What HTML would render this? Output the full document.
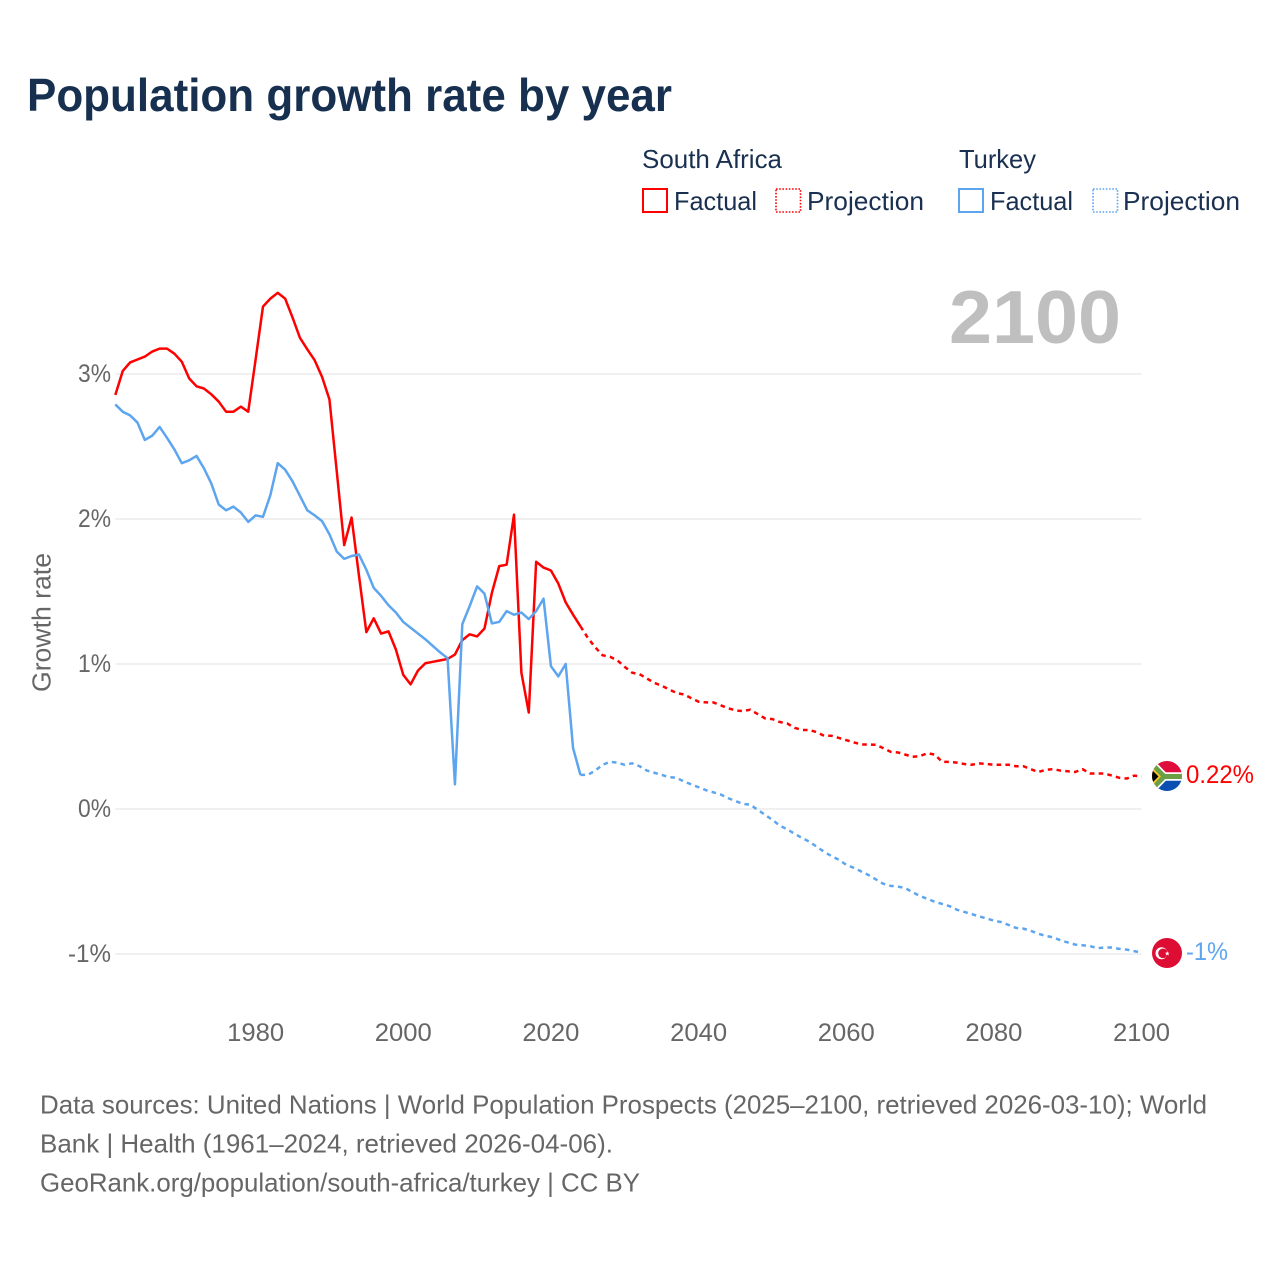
<!DOCTYPE html>
<html lang="en">
<head>
<meta charset="utf-8">
<title>Population growth rate by year</title>
<style>
html,body{margin:0;padding:0;background:#fff;}
svg{display:block;}
text{font-family:"Liberation Sans",sans-serif;}
</style>
</head>
<body>
<svg id="chart" xmlns="http://www.w3.org/2000/svg" width="1280" height="1280" viewBox="0 0 1280 1280">
  <rect x="0" y="0" width="1280" height="1280" fill="#fff"/>
  <text x="27" y="111" font-size="46" font-weight="700" fill="#17304f" textLength="645" lengthAdjust="spacingAndGlyphs">Population growth rate by year</text>

  <g font-size="26" fill="#1a3050">
    <text x="642" y="168" textLength="140" lengthAdjust="spacingAndGlyphs">South Africa</text>
    <text x="959" y="168" textLength="77" lengthAdjust="spacingAndGlyphs">Turkey</text>
    <rect x="643" y="189" width="24" height="23" fill="none" stroke="#ff0000" stroke-width="2"/>
    <text x="674" y="210" textLength="83" lengthAdjust="spacingAndGlyphs">Factual</text>
    <rect x="776" y="189" width="24.5" height="23" fill="none" stroke="#ff0000" stroke-width="1.6" stroke-dasharray="1.6 1.6"/>
    <text x="807" y="210" textLength="117" lengthAdjust="spacingAndGlyphs">Projection</text>
    <rect x="959" y="189" width="24" height="23" fill="none" stroke="#5da5ef" stroke-width="2"/>
    <text x="990" y="210" textLength="83" lengthAdjust="spacingAndGlyphs">Factual</text>
    <rect x="1093" y="189" width="24.5" height="23" fill="none" stroke="#5da5ef" stroke-width="1.6" stroke-dasharray="1.6 1.6"/>
    <text x="1123" y="210" textLength="117" lengthAdjust="spacingAndGlyphs">Projection</text>
  </g>

  <text x="949" y="343" font-size="75" font-weight="700" fill="#bfbfbf" textLength="172" lengthAdjust="spacingAndGlyphs">2100</text>

  <g id="grid"></g>
  <g id="yticks" font-size="25" fill="#666" text-anchor="end"></g>
  <g id="xticks" font-size="25" fill="#666" text-anchor="middle"></g>
  <text transform="translate(50.5,692) rotate(-90)" font-size="25.5" fill="#666" textLength="139" lengthAdjust="spacingAndGlyphs">Growth rate</text>

  <g id="series"></g>

  <defs>
    <clipPath id="clip-za"><circle cx="1167" cy="776" r="15"/></clipPath>
    <clipPath id="clip-tr"><circle cx="1167" cy="953" r="15"/></clipPath>
  </defs>
  <g clip-path="url(#clip-za)">
    <rect x="1152" y="761" width="30" height="15.5" fill="#de0d3b"/>
    <rect x="1152" y="776.5" width="30" height="15" fill="#0b4fb3"/>
    <path d="M1148 760 L1164 776.5 L1148 793 M1164 776.5 H1184" fill="none" stroke="#fff" stroke-width="8.5"/>
    <path d="M1148 760 L1164 776.5 L1148 793 M1164 776.5 H1184" fill="none" stroke="#6a9f45" stroke-width="5"/>
    <polygon points="1150,765 1161,776.5 1150,788" fill="#f5c32c"/>
    <polygon points="1150,768 1158.5,776.5 1150,785" fill="#000"/>
  </g>
  <g clip-path="url(#clip-tr)">
    <rect x="1152" y="938" width="30" height="30" fill="#de0d33"/>
    <circle cx="1161.5" cy="953.3" r="6" fill="#fff"/>
    <circle cx="1163" cy="953.3" r="4.8" fill="#de0d33"/>
    <polygon transform="translate(-4.2,0.4)" points="1171.5,950.6 1172.1,952.3 1173.9,952.3 1172.5,953.4 1173,955.2 1171.5,954.1 1170,955.2 1170.5,953.4 1169.1,952.3 1170.9,952.3" fill="#fff"/>
  </g>
  <text x="1186" y="783" font-size="25" fill="#ff0000" textLength="68" lengthAdjust="spacingAndGlyphs">0.22%</text>
  <text x="1186" y="960" font-size="25" fill="#5da5ef" textLength="42" lengthAdjust="spacingAndGlyphs">-1%</text>

  <g font-size="26" fill="#666">
    <text x="40" y="1113.5" textLength="1167" lengthAdjust="spacingAndGlyphs">Data sources: United Nations | World Population Prospects (2025–2100, retrieved 2026-03-10); World</text>
    <text x="40" y="1152.5" textLength="573" lengthAdjust="spacingAndGlyphs">Bank | Health (1961–2024, retrieved 2026-04-06).</text>
    <text x="40" y="1191.5" textLength="600" lengthAdjust="spacingAndGlyphs">GeoRank.org/population/south-africa/turkey | CC BY</text>
  </g>
</svg>
<script>
const factualStartYear = 1961;
const projectionStartYear = 2024;
const xTickYears = [1980, 2000, 2020, 2040, 2060, 2080, 2100];
const yTickValues = [3, 2, 1, 0, -1];
const yTickLabels = ['3%', '2%', '1%', '0%', '-1%'];

const southAfricaFactual = [
  2.855,3.02,3.08,3.10,3.12,3.155,3.175,3.175,3.14,3.085,
  2.97,2.915,2.90,2.86,2.81,2.74,2.74,2.775,2.74,3.10,
  3.465,3.52,3.56,3.52,3.39,3.25,3.17,3.095,2.98,2.825,
  2.325,1.82,2.01,1.61,1.22,1.315,1.21,1.225,1.10,0.925,
  0.86,0.955,1.005,1.015,1.025,1.035,1.065,1.165,1.205,1.19,
  1.245,1.49,1.675,1.685,2.03,0.94,0.665,1.705,1.665,1.645,
  1.555,1.425,1.34,1.26
];
const southAfricaProjection = [
  1.26,1.18,1.115,1.06,1.05,1.025,0.98,0.94,0.93,0.90,
  0.87,0.85,0.825,0.80,0.79,0.765,0.74,0.735,0.735,0.715,
  0.695,0.68,0.675,0.685,0.655,0.625,0.62,0.60,0.59,0.56,
  0.545,0.545,0.53,0.505,0.505,0.49,0.475,0.46,0.445,0.445,
  0.443,0.42,0.395,0.39,0.375,0.36,0.365,0.385,0.375,0.325,
  0.325,0.32,0.31,0.305,0.315,0.31,0.305,0.305,0.305,0.295,
  0.295,0.275,0.255,0.27,0.275,0.265,0.26,0.255,0.275,0.245,
  0.245,0.245,0.23,0.215,0.21,0.23,0.225
];
const turkeyFactual = [
  2.79,2.74,2.715,2.665,2.545,2.575,2.635,2.56,2.48,2.385,
  2.405,2.435,2.35,2.245,2.10,2.06,2.085,2.045,1.98,2.025,
  2.015,2.165,2.385,2.34,2.26,2.16,2.06,2.025,1.985,1.895,
  1.775,1.725,1.745,1.755,1.65,1.525,1.47,1.405,1.355,1.29,
  1.25,1.21,1.17,1.125,1.08,1.04,0.17,1.275,1.40,1.535,
  1.485,1.28,1.29,1.365,1.34,1.355,1.31,1.365,1.45,0.985,
  0.915,1.00,0.42,0.235
];
const turkeyProjection = [
  0.235,0.235,0.265,0.305,0.325,0.32,0.305,0.315,0.295,0.265,
  0.25,0.235,0.22,0.215,0.19,0.17,0.15,0.13,0.115,0.10,
  0.075,0.055,0.035,0.03,-0.005,-0.04,-0.075,-0.115,-0.14,-0.17,
  -0.2,-0.225,-0.26,-0.295,-0.325,-0.35,-0.385,-0.405,-0.43,-0.455,
  -0.485,-0.515,-0.53,-0.535,-0.545,-0.575,-0.6,-0.62,-0.64,-0.655,
  -0.67,-0.695,-0.71,-0.725,-0.74,-0.755,-0.77,-0.78,-0.80,-0.82,
  -0.825,-0.84,-0.86,-0.875,-0.885,-0.905,-0.92,-0.935,-0.94,-0.945,
  -0.96,-0.955,-0.955,-0.965,-0.97,-0.98,-0.99
];

const SVG_NS = 'http://www.w3.org/2000/svg';
function xScale(year) { return 255.6 + (year - 1980) * 7.383; }
function yScale(value) { return 809 - value * 145; }

function linePoints(values, startYear) {
  return values.map(function (v, i) {
    return xScale(startYear + i).toFixed(2) + ',' + yScale(v).toFixed(2);
  }).join(' ');
}

const gridGroup = document.getElementById('grid');
const yTickGroup = document.getElementById('yticks');
yTickValues.forEach(function (value, i) {
  const line = document.createElementNS(SVG_NS, 'line');
  
  
  line.setAttribute('x1', xScale(1961));
  line.setAttribute('x2', xScale(2100));
  line.setAttribute('y1', yScale(value));
  line.setAttribute('y2', yScale(value));
  line.setAttribute('stroke', '#ebebeb');
  line.setAttribute('stroke-width', '1.6');
  gridGroup.appendChild(line);

  const label = document.createElementNS(SVG_NS, 'text');
  
  
  label.setAttribute('x', 111);
  label.setAttribute('y', yScale(value) + 8);
  label.setAttribute('textLength', yTickLabels[i].length === 2 ? 33 : 43);
  label.setAttribute('lengthAdjust', 'spacingAndGlyphs');
  label.textContent = yTickLabels[i];
  yTickGroup.appendChild(label);
});

const xTickGroup = document.getElementById('xticks');
xTickYears.forEach(function (year) {
  const label = document.createElementNS(SVG_NS, 'text');
  
  
  label.setAttribute('x', xScale(year));
  label.setAttribute('y', 1041);
  label.setAttribute('textLength', 57);
  label.setAttribute('lengthAdjust', 'spacingAndGlyphs');
  label.textContent = String(year);
  xTickGroup.appendChild(label);
});

const seriesGroup = document.getElementById('series');
function drawSeries(name, values, startYear, color, dashed) {
  const line = document.createElementNS(SVG_NS, 'polyline');
  
  
  line.setAttribute('points', linePoints(values, startYear));
  line.setAttribute('fill', 'none');
  line.setAttribute('stroke', color);
  line.setAttribute('stroke-width', '2.5');
  line.setAttribute('stroke-linejoin', 'round');
  if (dashed) {
    line.setAttribute('stroke-dasharray', '4.6 4.2');
  }
  seriesGroup.appendChild(line);
}
drawSeries('south-africa-projection-line', southAfricaProjection, projectionStartYear, '#ff0000', true);
drawSeries('turkey-projection-line', turkeyProjection, projectionStartYear, '#5da5ef', true);
drawSeries('south-africa-factual-line', southAfricaFactual, factualStartYear, '#ff0000', false);
drawSeries('turkey-factual-line', turkeyFactual, factualStartYear, '#5da5ef', false);
</script>
</body>
</html>
